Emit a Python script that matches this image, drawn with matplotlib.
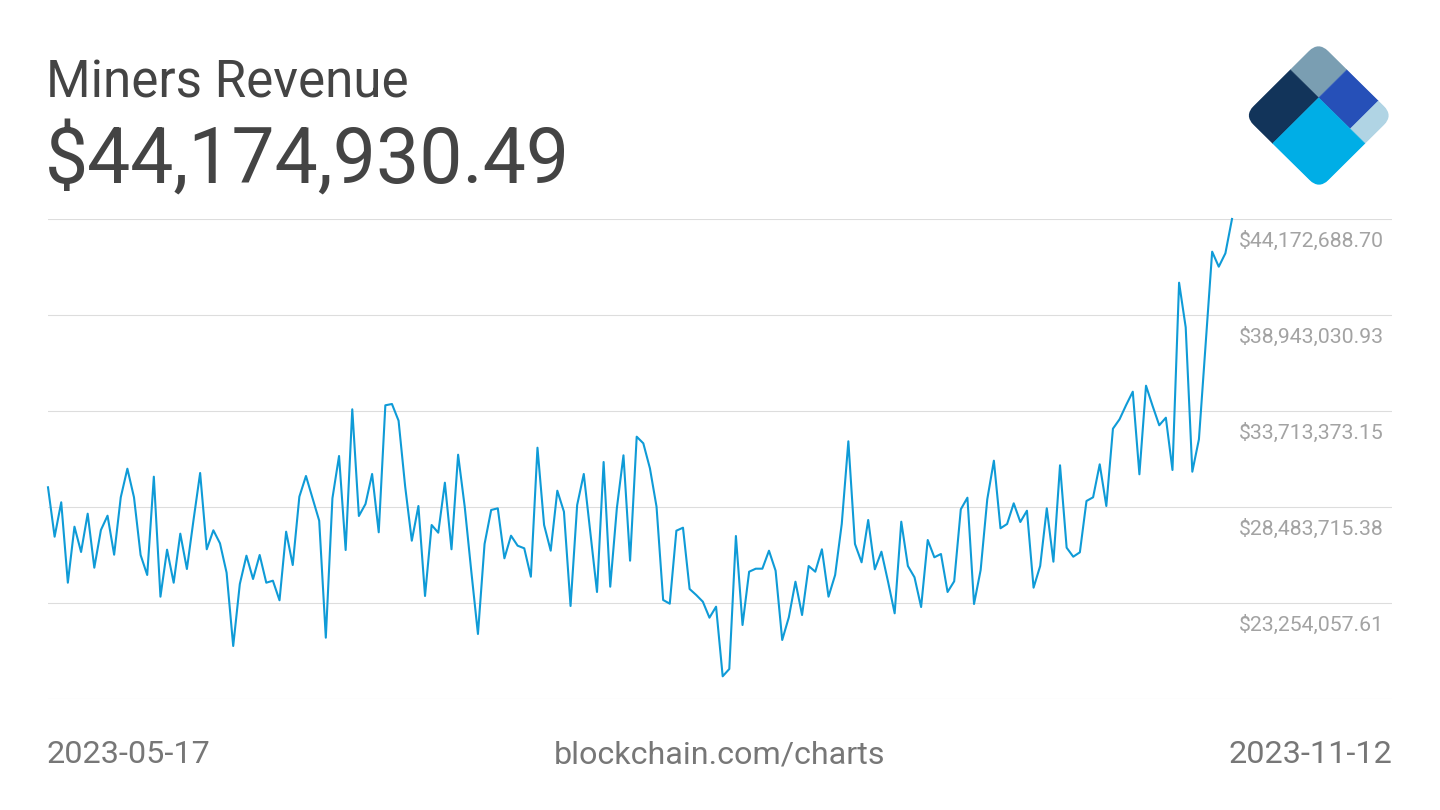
import numpy as np
import pandas as pd
import matplotlib
matplotlib.use("Agg")
import matplotlib.pyplot as plt
from matplotlib.patches import Rectangle, FancyBboxPatch
from matplotlib.transforms import Affine2D, blended_transform_factory

plt.rcParams['font.family'] = ['Roboto', 'DejaVu Sans']

TITLE = "Miners Revenue"
HEADLINE = "$44,174,930.49"
START_DATE = "2023-05-17"
END_DATE = "2023-11-12"
SOURCE = "blockchain.com/charts"

# daily miners revenue, million USD
revenue_musd = [
    29.557, 26.866, 28.740, 24.360, 27.411, 26.033, 28.119, 25.178, 27.231, 28.010,
    25.886, 29.012, 30.570, 29.012, 25.869, 24.780, 30.135, 23.598, 26.158, 24.360,
    27.030, 25.107, 27.776, 30.336, 26.180, 27.215, 26.506, 24.905, 20.912, 24.289,
    25.831, 24.562, 25.869, 24.360, 24.469, 23.401, 27.139, 25.324, 29.045, 30.173,
    28.958, 27.738, 21.364, 28.958, 31.262, 26.141, 33.806, 27.994, 28.647, 30.282,
    27.106, 34.024, 34.095, 33.185, 29.590, 26.648, 28.538, 23.636, 27.503, 27.084,
    29.808, 26.180, 31.333, 28.500, 24.959, 21.566, 26.468, 28.321, 28.413, 25.689,
    26.921, 26.376, 26.234, 24.687, 31.714, 27.503, 26.103, 29.372, 28.228, 23.091,
    28.593, 30.282, 27.068, 23.854, 30.935, 24.142, 28.413, 31.300, 25.559, 32.314,
    31.954, 30.592, 28.500, 23.418, 23.216, 27.193, 27.356, 24.017, 23.690, 23.325,
    22.454, 23.053, 19.261, 19.659, 26.904, 22.056, 24.959, 25.123, 25.123, 26.103,
    25.014, 21.239, 22.475, 24.415, 22.601, 25.270, 24.959, 26.180, 23.598, 24.780,
    27.558, 32.063, 26.468, 25.471, 27.776, 25.090, 26.049, 24.415, 22.693, 27.683,
    25.270, 24.654, 23.036, 26.686, 25.744, 25.924, 23.854, 24.436, 28.359, 28.991,
    23.200, 25.052, 28.903, 31.006, 27.324, 27.558, 28.685, 27.667, 28.282, 24.088,
    25.270, 28.413, 25.504, 30.756, 26.267, 25.776, 26.016, 28.811, 29.012, 30.810,
    28.538, 32.749, 33.262, 34.041, 34.765, 30.265, 35.092, 33.986, 32.935, 33.349,
    30.500, 40.703, 38.273, 30.407, 32.172, 37.309, 42.392, 41.575, 42.304, 44.175,
]

# gridline values in USD, only the top five get a label
grid_values = [18024399.84, 23254057.61, 28483715.38, 33713373.15, 38943030.93, 44172688.70]
labelled_values = grid_values[1:]

# logo pieces: (u0, v0, du, dv, colour) in the rotated unit square
logo_pieces = [
    (0.00, 0.00, 0.38, 0.38, '#7a9eb2'),
    (0.00, 0.38, 0.38, 0.62, '#12345a'),
    (0.38, 0.00, 0.42, 0.38, '#2650b8'),
    (0.80, 0.00, 0.20, 0.38, '#b0d4e4'),
    (0.38, 0.38, 0.62, 0.62, '#00aee6'),
]

W, H = 1440, 810
LINE_COLOR = '#0f9bd7'


def fx(px):
    return px / W


def fy(py):
    return 1 - py / H


def draw_logo(fig):
    lax = fig.add_axes([0, 0, 1, 1])
    lax.set_xlim(0, W)
    lax.set_ylim(H, 0)
    lax.axis('off')
    # unit square -> diamond in pixel coords
    rot = Affine2D.from_values(75.0, 74.0, -74.5, 74.0, 1318.5, 41.5)
    tr = rot + lax.transData
    clip = FancyBboxPatch((0, 0), 1, 1, boxstyle="round,pad=0,rounding_size=0.13",
                          transform=tr, facecolor='none', edgecolor='none')
    lax.add_patch(clip)
    for u0, v0, du, dv, c in logo_pieces:
        r = Rectangle((u0, v0), du, dv, transform=tr, facecolor=c,
                      edgecolor=c, linewidth=0.3)
        lax.add_patch(r)
        r.set_clip_path(clip)


def main():
    dates = pd.date_range(START_DATE, END_DATE, freq='D')
    values = np.array(revenue_musd) * 1e6

    fig = plt.figure(figsize=(14.4, 8.1), dpi=100)
    fig.patch.set_facecolor('white')

    ax = fig.add_axes([fx(48), fy(699), fx(1392 - 48), (699 - 219) / H])
    span_days = 179 * (1392 - 48) / (1232 - 48)
    ax.set_xlim(dates[0], dates[0] + pd.Timedelta(days=span_days))
    ax.set_ylim(grid_values[0], grid_values[-1])
    ax.axis('off')

    for g in grid_values:
        ax.axhline(g, color='#dddddd', linewidth=0.8, zorder=1)

    ax.plot(dates, values, color=LINE_COLOR, linewidth=1.5, zorder=3, clip_on=False)

    lab_tr = blended_transform_factory(ax.transAxes, ax.transData)
    for g in labelled_values:
        ax.annotate("${:,.2f}".format(g), xy=((1239 - 48) / 1344, g), xycoords=lab_tr,
                    xytext=(0, -19.8), textcoords='offset points',
                    ha='left', va='baseline', fontsize=15.3, color='#a3a3a3')

    fig.text(fx(46), fy(97), TITLE, fontsize=36.8, color='#444444', va='baseline', ha='left')
    fig.text(fx(45), fy(183), HEADLINE, fontsize=55.4, color='#444444', va='baseline', ha='left')

    fig.text(fx(47), fy(763), dates[0].strftime('%Y-%m-%d'), fontsize=23.3,
             color='#777777', va='baseline', ha='left')
    fig.text(fx(720), fy(763), SOURCE, fontsize=23.2,
             color='#777777', va='baseline', ha='center')
    fig.text(fx(1392), fy(763), dates[-1].strftime('%Y-%m-%d'), fontsize=23.3,
             color='#777777', va='baseline', ha='right')

    draw_logo(fig)

    fig.savefig('out.png', dpi=100, facecolor='white')


if __name__ == "__main__":
    main()
